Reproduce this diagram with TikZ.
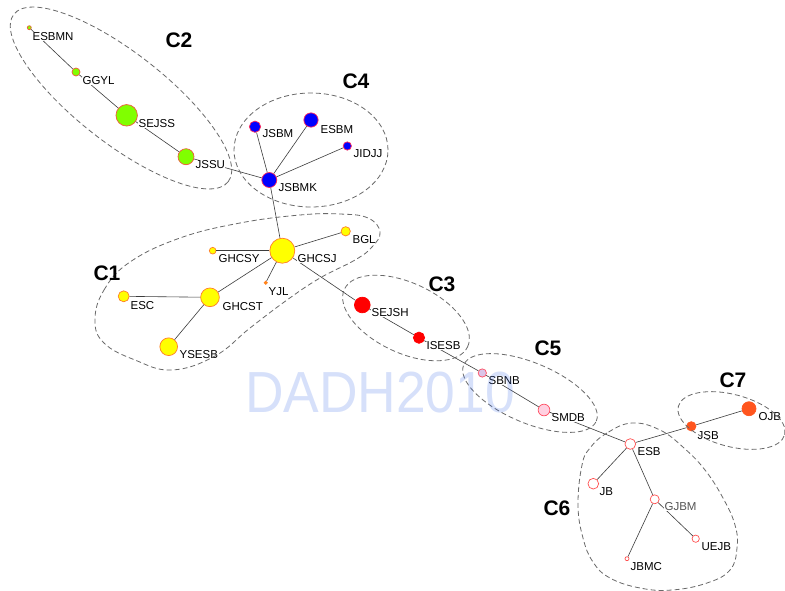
\documentclass[tikz,border=0pt]{standalone}
\usepackage{fontspec}
\setmainfont{Liberation Sans}
\usetikzlibrary{shapes.geometric}
\definecolor{limeg}{RGB}{128,255,0}
\definecolor{limerim}{RGB}{240,90,60}
\definecolor{blu}{RGB}{0,0,255}
\definecolor{blurim}{RGB}{255,40,90}
\definecolor{yel}{RGB}{255,255,0}
\definecolor{yelrim}{RGB}{255,125,40}
\definecolor{ora}{RGB}{255,150,0}
\definecolor{rd}{RGB}{255,0,0}
\definecolor{lav}{RGB}{218,196,232}
\definecolor{pnk}{RGB}{255,208,224}
\definecolor{pnkrim}{RGB}{255,80,100}
\definecolor{wrim}{RGB}{255,80,80}
\definecolor{org}{RGB}{255,85,30}
\definecolor{linkgray}{RGB}{60,60,60}
\definecolor{ringgray}{RGB}{105,105,105}
\definecolor{stampblue}{RGB}{50,100,230}
\tikzset{
    vertex/.style={circle,inner sep=0pt,line width=0.7pt},
    c1dot/.style={vertex,fill=yel,draw=yelrim},
    c2dot/.style={vertex,fill=limeg,draw=limerim},
    c3dot/.style={vertex,fill=rd,draw=rd},
    c4dot/.style={vertex,fill=blu,draw=blurim},
    c5dot/.style={vertex,fill=pnk,draw=pnkrim},
    c6dot/.style={vertex,fill=white,draw=wrim},
    c7dot/.style={vertex,fill=org,draw=org},
    link/.style={draw=linkgray,line width=0.6pt},
    tag/.style={anchor=west,fill=white,inner sep=0.4pt,font=\fontsize{11.5}{13}\selectfont},
    ring/.style={ellipse,draw=ringgray,dash pattern=on 5pt off 3pt,line width=0.8pt,inner sep=0pt},
    ctitle/.style={font=\fontsize{21}{24}\selectfont\bfseries},
    stamp/.style={text=stampblue,text opacity=0.2,font=\fontsize{58}{60}\selectfont},
}

\begin{document}
\begin{tikzpicture}[x=1pt,y=-1pt]
\path[use as bounding box,fill=white] (0,0) rectangle (785,590);
% C2
\node[c2dot,minimum size=4pt] (ESBMN) at (29.3,27.7) {};
\node[c2dot,minimum size=8pt] (GGYL) at (76,72) {} edge [link] (ESBMN);
\node[c2dot,minimum size=21.5pt] (SEJSS) at (126.7,115.3) {} edge [link] (GGYL);
\node[c2dot,minimum size=16pt] (JSSU) at (186,156.7) {} edge [link] (SEJSS);
% C4
\node[c4dot,minimum size=15pt] (JSBMK) at (269.3,180) {} edge [link] (JSSU);
\node[c4dot,minimum size=11.3pt] (JSBM) at (255,126.7) {} edge [link] (JSBMK);
\node[c4dot,minimum size=14.3pt] (ESBM) at (311,120) {} edge [link] (JSBMK);
\node[c4dot,minimum size=8.3pt] (JIDJJ) at (347.3,146) {} edge [link] (JSBMK);
% C1
\node[c1dot,minimum size=25pt] (GHCSJ) at (282.3,250.7) {} edge [link] (JSBMK);
\node[c1dot,minimum size=9.3pt] (BGL) at (345.7,231.3) {} edge [link] (GHCSJ);
\node[c1dot,minimum size=6.7pt] (GHCSY) at (212.7,250.7) {} edge [link] (GHCSJ);
\node[vertex,fill=ora,draw=yelrim,minimum size=3.3pt] (YJL) at (265.7,282.7) {} edge [link] (GHCSJ);
\node[c1dot,minimum size=18.7pt] (GHCST) at (210,297.3) {} edge [link] (GHCSJ);
\node[c1dot,minimum size=11pt] (ESC) at (123.7,296.3) {} edge [link] (GHCST);
\node[c1dot,minimum size=17.7pt] (YSESB) at (168.7,346.7) {} edge [link] (GHCST);
% C3
\node[c3dot,minimum size=15.7pt] (SEJSH) at (362.3,305) {} edge [link] (GHCSJ);
\node[c3dot,minimum size=11.3pt] (ISESB) at (419,337.7) {} edge [link] (SEJSH);
% C5
\node[c5dot,fill=lav,minimum size=8.3pt] (SBNB) at (482.3,373) {} edge [link] (ISESB);
\node[c5dot,minimum size=11.7pt] (SMDB) at (544,410) {} edge [link] (SBNB);
% C6
\node[c6dot,minimum size=10.7pt] (ESB) at (630.3,444) {} edge [link] (SMDB);
\node[c6dot,minimum size=10.7pt] (JB) at (593.3,483.7) {} edge [link] (ESB);
\node[c6dot,minimum size=9pt] (GJBM) at (654.7,499.3) {} edge [link] (ESB);
\node[c6dot,minimum size=4pt] (JBMC) at (627,558.7) {} edge [link] (GJBM);
\node[c6dot,minimum size=7.3pt] (UEJB) at (695.7,538.7) {} edge [link] (GJBM);
% C7
\node[c7dot,minimum size=9.3pt] (JSB) at (691.3,426.3) {} edge [link] (ESB);
\node[c7dot,minimum size=14pt] (OJB) at (749,408.7) {} edge [link] (JSB);

\node[tag] (tESBMN) at (32,36.5) {ESBMN};
\node[tag] (tGGYL) at (82,81) {GGYL};
\node[tag] (tSEJSS) at (138,124) {SEJSS};
\node[tag] (tJSSU) at (195,164.5) {JSSU};
\node[tag] (tJSBM) at (262,134) {JSBM};
\node[tag] (tESBM) at (320,130) {ESBM};
\node[tag] (tJIDJJ) at (353,154) {JIDJJ};
\node[tag] (tJSBMK) at (278,188) {JSBMK};
\node[tag] (tGHCSY) at (218,259) {GHCSY};
\node[tag] (tGHCSJ) at (297,259) {GHCSJ};
\node[tag] (tBGL) at (352,240) {BGL};
\node[tag] (tYJL) at (268,291.5) {YJL};
\node[tag] (tESC) at (130,306) {ESC};
\node[tag] (tGHCST) at (222,307) {GHCST};
\node[tag] (tYSESB) at (179,355) {YSESB};
\node[tag] (tSEJSH) at (371,313) {SEJSH};
\node[tag] (tISESB) at (426,346) {ISESB};
\node[tag] (tSBNB) at (488,381) {SBNB};
\node[tag] (tSMDB) at (551,418) {SMDB};
\node[tag] (tESB) at (637,452) {ESB};
\node[tag] (tJB) at (599,492) {JB};
\node[tag,text=black!67] (tGJBM) at (664,507) {GJBM};
\node[tag] (tUEJB) at (701,547) {UEJB};
\node[tag] (tJBMC) at (630,567) {JBMC};
\node[tag] (tJSB) at (697,436) {JSB};
\node[tag] (tOJB) at (758,417) {OJB};

\node[ring,minimum width=272pt,minimum height=90pt,rotate=-38] (eC2) at (121,98) {};
\node[ring,minimum width=154pt,minimum height=114pt] (eC4) at (311,150) {};
\node[ring,minimum width=136pt,minimum height=70pt,rotate=-25] (eC3) at (406,318) {};
\node[ring,minimum width=144pt,minimum height=60pt,rotate=-23] (eC5) at (530,393) {};
\node[ring,minimum width=110pt,minimum height=52pt,rotate=-15] (eC7) at (731.5,420.5) {};
\draw[ring] plot[smooth cycle,tension=0.7] coordinates {(95,320) (104,290) (130,262) (180,238) (240,223) (300,215) (340,214) (368,218) (380,232) (372,247) (355,260) (320,278) (287,300) (250,328) (215,356) (172,370) (135,360) (104,343)};
\draw[ring] plot[smooth cycle,tension=0.7] coordinates {(632,423) (607,433) (590,448) (582,465) (578,505) (583,538) (593,562) (610,578) (640,588) (672,590) (707,583) (730,570) (737,548) (735,525) (723,498) (705,470) (684,448) (660,430)};

\node[ctitle] (tC2) at (179,40) {C2};
\node[ctitle] (tC4) at (356,81) {C4};
\node[ctitle] (tC1) at (107,273) {C1};
\node[ctitle] (tC3) at (442,284) {C3};
\node[ctitle] (tC5) at (548,348) {C5};
\node[ctitle] (tC6) at (557,508) {C6};
\node[ctitle] (tC7) at (733,380) {C7};

\node[stamp] (wm) at (380,392.5) {\scalebox{0.92}[1]{DADH2010}};
\end{tikzpicture}
\end{document}
